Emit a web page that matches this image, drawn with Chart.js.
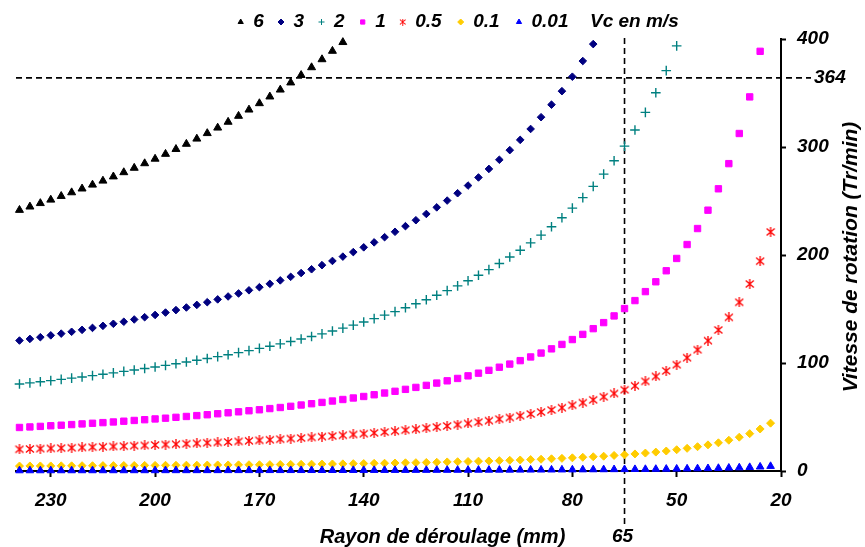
<!DOCTYPE html>
<html>
<head>
<meta charset="utf-8">
<script src="https://cdn.jsdelivr.net/npm/chart.js@4.4.0/dist/chart.umd.min.js"></script>
<style>
  html, body { margin: 0; padding: 0; background: #fff; }
  #wrap { width: 865px; height: 547px; }
</style>
</head>
<body>
<div id="wrap"><canvas id="chart" width="865" height="547"></canvas></div>
<script>
// rayon de déroulage (mm)
const radii = [239,236,233,230,227,224,221,218,215,212,209,206,203,200,197,194,191,188,185,182,
  179,176,173,170,167,164,161,158,155,152,149,146,143,140,137,134,131,128,125,122,
  119,116,113,110,107,104,101,98,95,92,89,86,83,80,77,74,71,68,65,62,
  59,56,53,50,47,44,41,38,35,32,29,26,23];

// vitesse de rotation (Tr/min), one list per Vc; lists stop where the points leave the 400 frame
const vc6 = [241.6,244.7,247.9,251.1,254.5,257.9,261.4,265.0,268.7,272.6,
  276.5,280.6,284.8,289.0,293.5,298.0,302.8,307.6,312.7,317.8,
  323.2,328.7,334.5,340.4,346.6,353.0,359.6,366.5,373.7,381.1,
  388.9,397.0];
const vc3 = [120.8,122.3,123.9,125.6,127.2,128.9,130.7,132.5,134.4,136.3,
  138.2,140.3,142.4,144.5,146.7,149.0,151.4,153.8,156.3,158.9,
  161.6,164.4,167.3,170.2,173.3,176.5,179.8,183.3,186.8,190.6,
  194.5,198.5,202.7,207.1,211.7,216.5,221.5,226.7,232.2,238.0,
  244.1,250.4,257.2,264.3,271.8,279.7,288.2,297.1,306.6,316.7,
  327.6,339.2,351.7,365.1,379.6,395.3];
const vc2 = [80.5,81.6,82.6,83.7,84.8,86.0,87.1,88.3,89.6,90.9,
  92.2,93.5,94.9,96.3,97.8,99.3,100.9,102.5,104.2,105.9,
  107.7,109.6,111.5,113.5,115.5,117.7,119.9,122.2,124.6,127.0,
  129.6,132.3,135.1,138.0,141.1,144.3,147.6,151.1,154.8,158.6,
  162.7,167.0,171.4,176.2,181.2,186.5,192.1,198.1,204.4,211.2,
  218.4,226.1,234.5,243.4,253.1,263.5,274.9,287.2,300.8,315.7,
  332.1,350.3,370.7,393.6];
const vc1 = [40.3,40.8,41.3,41.9,42.4,43.0,43.6,44.2,44.8,45.4,
  46.1,46.8,47.5,48.2,48.9,49.7,50.5,51.3,52.1,53.0,
  53.9,54.8,55.8,56.7,57.8,58.8,59.9,61.1,62.3,63.5,
  64.8,66.2,67.6,69.0,70.6,72.2,73.8,75.6,77.4,79.3,
  81.4,83.5,85.7,88.1,90.6,93.2,96.1,99.0,102.2,105.6,
  109.2,113.1,117.2,121.7,126.5,131.8,137.4,143.6,150.4,157.8,
  166.1,175.2,185.4,196.8,209.7,224.5,241.5,261.3,284.6,312.5,
  346.4,388.6];
const vc05 = [20.1,20.4,20.7,20.9,21.2,21.5,21.8,22.1,22.4,22.7,
  23.0,23.4,23.7,24.1,24.5,24.8,25.2,25.6,26.1,26.5,
  26.9,27.4,27.9,28.4,28.9,29.4,30.0,30.5,31.1,31.8,
  32.4,33.1,33.8,34.5,35.3,36.1,36.9,37.8,38.7,39.7,
  40.7,41.7,42.9,44.0,45.3,46.6,48.0,49.5,51.1,52.8,
  54.6,56.5,58.6,60.9,63.3,65.9,68.7,71.8,75.2,78.9,
  83.0,87.6,92.7,98.4,104.9,112.3,120.7,130.6,142.3,156.2,
  173.2,194.3,221.3];
const vc01 = [4.6,4.7,4.7,4.7,4.8,4.8,4.9,4.9,5.0,5.0,
  5.1,5.1,5.2,5.2,5.3,5.3,5.4,5.4,5.5,5.6,
  5.6,5.7,5.8,5.8,5.9,6.0,6.1,6.2,6.3,6.4,
  6.5,6.6,6.8,6.9,7.1,7.2,7.4,7.6,7.7,7.9,
  8.1,8.4,8.6,8.8,9.1,9.3,9.6,9.9,10.2,10.6,
  10.9,11.3,11.7,12.2,12.7,13.2,13.7,14.4,15.0,15.8,
  16.6,17.5,18.5,19.7,21.0,22.5,24.2,26.1,28.5,31.3,
  34.6,38.9,44.3];
const vc001 = [0.40,0.41,0.41,0.42,0.42,0.43,0.44,0.44,0.45,0.45,
  0.46,0.47,0.47,0.48,0.49,0.50,0.50,0.51,0.52,0.53,
  0.54,0.55,0.56,0.57,0.58,0.59,0.60,0.61,0.62,0.64,
  0.65,0.66,0.68,0.69,0.71,0.72,0.74,0.76,0.77,0.79,
  0.81,0.83,0.86,0.88,0.91,0.93,0.96,0.99,1.02,1.06,
  1.09,1.13,1.17,1.22,1.27,1.32,1.37,1.44,1.50,1.58,
  1.66,1.75,1.85,1.97,2.10,2.25,2.41,2.61,2.85,3.12,
  3.46,3.89,4.43];

const seriesNames = ["6", "3", "2", "1", "0.5", "0.1", "0.01"];
const xTicks = [230, 200, 170, 140, 110, 80, 50, 20];
const yTicks = [0, 100, 200, 300, 400];
const refRadius = 65;
const refSpeed = 364;

const FONT = "'Liberation Sans', Arial, sans-serif";
const tickFont = { family: FONT, size: 19, style: "italic", weight: "bold" };

// Excel style "*" marker: an X with a vertical bar
function starMarker(color, size) {
  const c = document.createElement("canvas");
  c.width = size;
  c.height = size;
  const g = c.getContext("2d");
  g.strokeStyle = color;
  g.lineWidth = 1.3;
  g.beginPath();
  g.moveTo(1, 1.5); g.lineTo(size - 1, size - 1.5);
  g.moveTo(size - 1, 1.5); g.lineTo(1, size - 1.5);
  g.moveTo(size / 2, 0); g.lineTo(size / 2, size);
  g.stroke();
  return c;
}

const styles = [
  { color: "#000000", point: "triangle", radius: 4.6 },
  { color: "#000080", point: "rectRot", radius: 3.8 },
  { color: "#008080", point: "cross", radius: 4.8 },
  { color: "#ff00ff", point: "rect", radius: 4.5 },
  { color: "#ff0000", point: starMarker("#ff0000", 10), radius: 5 },
  { color: "#ffcc00", point: "rectRot", radius: 4 },
  { color: "#0000ff", point: "triangle", radius: 4.4 },
];
const seriesData = [vc6, vc3, vc2, vc1, vc05, vc01, vc001];

const datasets = seriesData.map((vals, i) => ({
  label: seriesNames[i],
  data: vals.map((v, k) => ({ x: radii[k], y: v })),
  showLine: false,
  pointStyle: styles[i].point,
  pointRadius: styles[i].radius,
  pointHoverRadius: styles[i].radius,
  backgroundColor: styles[i].color,
  borderColor: styles[i].color,
  pointBorderWidth: styles[i].point === "cross" ? 1.4 : 1,
  clip: false,
  order: seriesData.length - i,
}));

function drawMarker(ctx, style, x, y, r) {
  ctx.save();
  if (typeof style.point !== "string") {
    ctx.drawImage(style.point, x - 3.5, y - 3.5, 7, 7);
  } else {
    ctx.fillStyle = style.color;
    ctx.strokeStyle = style.color;
    ctx.lineWidth = 1;
    Chart.helpers.drawPoint(ctx, { pointStyle: style.point, radius: r, rotation: 0, borderWidth: 1 }, x, y);
  }
  ctx.restore();
}

const legendX = [240.7, 281, 321.5, 362.7, 402.7, 460.7, 519];

const decor = {
  id: "decor",
  beforeDatasetsDraw(chart) {
    const { ctx, chartArea: a, scales } = chart;
    const px = scales.x.getPixelForValue(refRadius);
    const py = scales.y.getPixelForValue(refSpeed);
    ctx.save();
    ctx.strokeStyle = "#000";
    ctx.lineWidth = 1.6;
    ctx.setLineDash([6, 4]);
    ctx.beginPath();
    ctx.moveTo(a.left, py);
    ctx.lineTo(a.right + 30, py);
    ctx.moveTo(px, a.top - 1);
    ctx.lineTo(px, a.bottom + 56);
    ctx.stroke();
    ctx.restore();
  },
  afterDraw(chart) {
    const { ctx, chartArea: a, scales } = chart;
    const font = (s) => "italic bold " + s + "px " + FONT;
    ctx.save();
    ctx.fillStyle = "#000";
    ctx.textBaseline = "middle";

    // reference values
    ctx.font = font(19);
    ctx.textAlign = "left";
    ctx.fillText(String(refSpeed), a.right + 33, scales.y.getPixelForValue(refSpeed));
    ctx.textAlign = "center";
    ctx.fillText(String(refRadius), scales.x.getPixelForValue(refRadius) - 2, 537);

    // axis titles
    ctx.font = font(20);
    ctx.fillText("Rayon de déroulage (mm)", 442.5, 537);
    ctx.save();
    ctx.translate(851, 257);
    ctx.rotate(-Math.PI / 2);
    ctx.font = font(21);
    ctx.fillText("Vitesse de rotation (Tr/min)", 0, 0);
    ctx.restore();

    // legend
    const ly = 22;
    ctx.font = font(19);
    ctx.textAlign = "left";
    seriesNames.forEach((name, i) => {
      drawMarker(ctx, styles[i], legendX[i], ly, 3);
      ctx.fillStyle = "#000";
      ctx.fillText(name, legendX[i] + 12.5, ly);
    });
    ctx.fillText("Vc en m/s", 590, ly);
    ctx.restore();
  },
};

new Chart(document.getElementById("chart"), {
  type: "scatter",
  data: { datasets },
  options: {
    responsive: false,
    animation: false,
    events: [],
    layout: { padding: { left: 16, top: 39, right: 0, bottom: 0 } },
    plugins: { legend: { display: false }, tooltip: { enabled: false } },
    scales: {
      x: {
        type: "linear",
        reverse: true,
        min: 20,
        max: 240,
        afterBuildTicks: (s) => { s.ticks = xTicks.map((v) => ({ value: v })); },
        afterFit: (s) => { s.height = 76; },
        ticks: { color: "#000", font: tickFont, padding: 12, maxRotation: 0, autoSkip: false },
        grid: { display: true, drawOnChartArea: false, drawTicks: true, tickLength: 6, tickColor: "#000", tickWidth: 2 },
        border: { display: true, color: "#000", width: 2 },
      },
      y: {
        type: "linear",
        position: "right",
        min: 0,
        max: 400,
        afterBuildTicks: (s) => { s.ticks = yTicks.map((v) => ({ value: v })); },
        afterFit: (s) => { s.width = 84; },
        ticks: { color: "#000", font: tickFont, padding: 11 },
        grid: { display: true, drawOnChartArea: false, drawTicks: true, tickLength: 5, tickColor: "#000", tickWidth: 2 },
        border: { display: true, color: "#000", width: 2 },
      },
    },
  },
  plugins: [decor],
});
</script>
</body>
</html>
